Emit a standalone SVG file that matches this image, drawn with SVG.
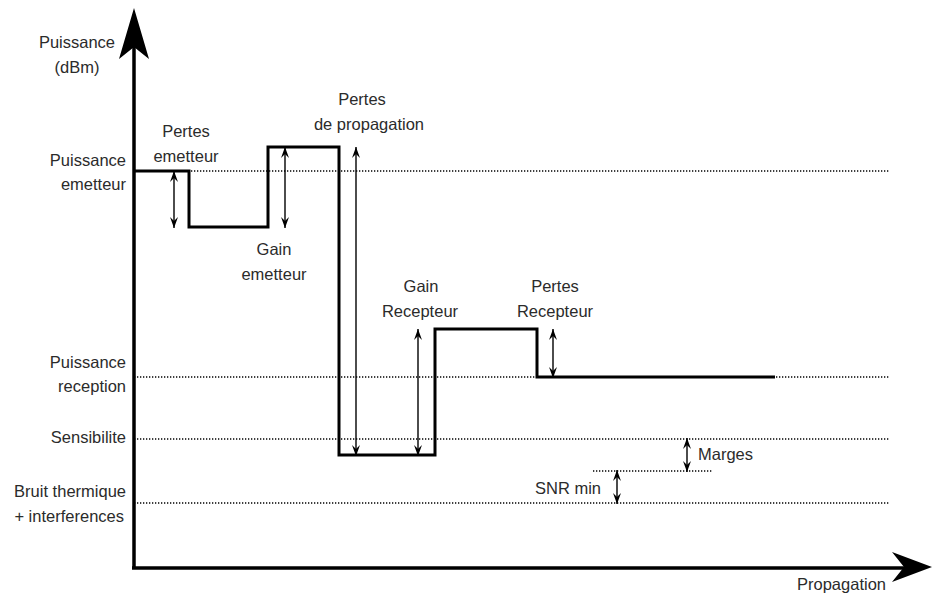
<svg xmlns="http://www.w3.org/2000/svg" width="934" height="596" viewBox="0 0 934 596">
<style>
text{font-family:"Liberation Sans",Arial,sans-serif;font-size:16.5px;fill:#2b2b2b}
.m{text-anchor:middle}
.e{text-anchor:end}
.dot{stroke:#000;stroke-width:1.3;stroke-dasharray:1.3 1.7;fill:none}
.sig{stroke:#000;stroke-width:3;fill:none;stroke-linejoin:miter}
.arr{stroke:#000;stroke-width:1.4;fill:none;marker-start:url(#ah);marker-end:url(#ah)}
.axis{stroke:#000;stroke-width:3.5;fill:none}
</style>
<defs>
<marker id="ah" viewBox="0 0 11 8" refX="11" refY="4" markerWidth="11" markerHeight="8" markerUnits="userSpaceOnUse" orient="auto-start-reverse">
<path d="M0,0 L11,4 L0,8 L4,4 z" fill="#000"/>
</marker>
</defs>
<rect width="934" height="596" fill="#fff"/>
<g id="levels">
<line class="dot" x1="134" y1="171" x2="890" y2="171"/>
<line class="dot" x1="134" y1="377" x2="890" y2="377"/>
<line class="dot" x1="134" y1="439" x2="890" y2="439"/>
<line class="dot" x1="134" y1="503" x2="890" y2="503"/>
<line class="dot" x1="593" y1="471" x2="712" y2="471"/>
</g>
<g id="axes">
<line class="axis" x1="134" y1="569" x2="134" y2="45"/>
<path d="M134,8 L149,59 L134,47 L119,59 z" fill="#000"/>
<line class="axis" x1="132" y1="568" x2="908" y2="568"/>
<path d="M932,567 L892,582 L904,567 L892,552 z" fill="#000"/>
</g>
<g id="signal">
<path class="sig" d="M134,171 H189 V227 H268 V147 H339 V455 H435 V329 H537 V377 H775"/>
</g>
<g id="connectors">
<line class="arr" x1="174" y1="171" x2="174" y2="228"/>
<line class="arr" x1="285" y1="147" x2="285" y2="228"/>
<line class="arr" x1="356" y1="147" x2="356" y2="456"/>
<line class="arr" x1="418" y1="329" x2="418" y2="456"/>
<line class="arr" x1="553" y1="329" x2="553" y2="378"/>
<line class="arr" x1="687" y1="438" x2="687" y2="472"/>
<line class="arr" x1="617" y1="470" x2="617" y2="504"/>
</g>
<g id="labels">
<text class="m" x="77" y="48">Puissance</text>
<text class="m" x="77" y="73">(dBm)</text>
<text class="e" x="126" y="166">Puissance</text>
<text class="e" x="126" y="190">emetteur</text>
<text class="e" x="126" y="368">Puissance</text>
<text class="e" x="126" y="392">reception</text>
<text class="e" x="126" y="443">Sensibilite</text>
<text class="e" x="126" y="497">Bruit thermique</text>
<text class="e" x="124" y="522">+ interferences</text>
<text class="m" x="186" y="137">Pertes</text>
<text class="m" x="186" y="162">emetteur</text>
<text class="m" x="274" y="255">Gain</text>
<text class="m" x="274" y="280">emetteur</text>
<text class="m" x="362" y="105">Pertes</text>
<text class="m" x="369" y="130">de propagation</text>
<text class="m" x="421" y="292">Gain</text>
<text class="m" x="420" y="317">Recepteur</text>
<text class="m" x="555" y="292">Pertes</text>
<text class="m" x="555" y="317">Recepteur</text>
<text x="698" y="460">Marges</text>
<text class="e" x="601" y="494">SNR min</text>
<text x="797" y="590">Propagation</text>
</g>
</svg>
